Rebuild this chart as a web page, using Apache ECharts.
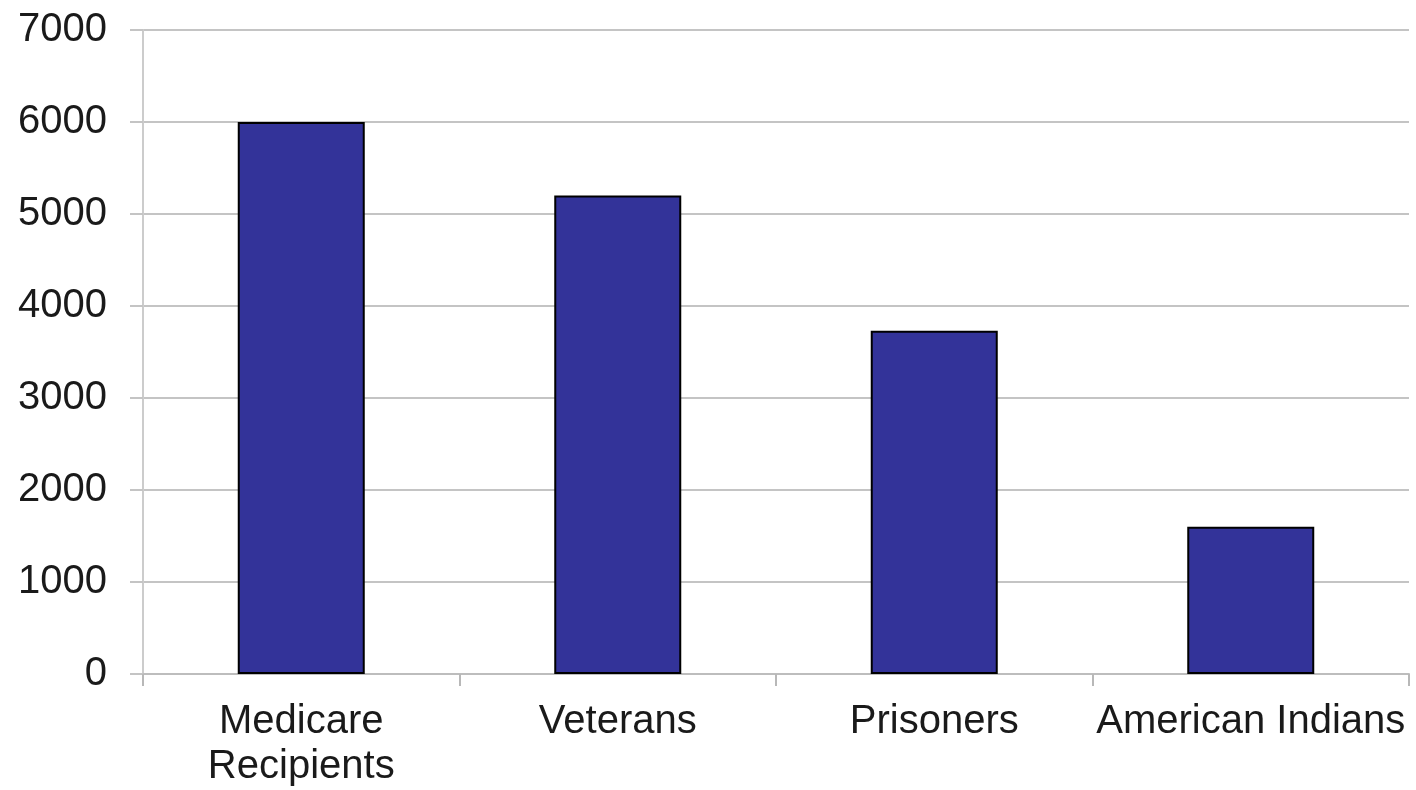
<!DOCTYPE html>
<html lang="en">
<head>
	<meta charset="UTF-8">
	<title>Chart</title>
	<style type="text/css">
		html, body { margin: 0; padding: 0; background: #fff; }
	</style>
	<script src="https://cdn.jsdelivr.net/npm/echarts@6/dist/echarts.min.js"></script>
</head>
<body>
	<div id="main" style="width: 1416px;height:790px;"></div>
	<script type="text/javascript">
	var categories = ['Medicare\nRecipients', 'Veterans', 'Prisoners', 'American Indians']
	var values = [6000, 5200, 3730, 1600]
	var yTicks = [0, 1000, 2000, 3000, 4000, 5000, 6000, 7000]

	var myChart = echarts.init(document.getElementById('main'));
	var option = {
		animation: false,
		grid: { left: 143, top: 30, right: 7, bottom: 116 },
		xAxis: {
			type: 'category',
			data: categories,
			axisLine: { lineStyle: { color: '#bdbdbd', width: 2 } },
			axisTick: { show: true, alignWithLabel: false, length: 12, lineStyle: { color: '#b8b8b8', width: 2 } },
			axisLabel: {
				color: '#1a1a1a',
				fontFamily: 'Liberation Sans, Arial',
				fontSize: 40,
				lineHeight: 45,
				margin: 25,
				interval: 0
			}
		},
		yAxis: {
			type: 'value',
			min: yTicks[0],
			max: yTicks[yTicks.length - 1],
			interval: 1000,
			axisLine: { show: true, lineStyle: { color: '#cccccc', width: 2 } },
			axisTick: { show: true, length: 13, lineStyle: { color: '#c4c4c4', width: 2 } },
			splitLine: { lineStyle: { color: '#c4c4c4', width: 2 } },
			axisLabel: {
				color: '#1a1a1a',
				fontFamily: 'Liberation Sans, Arial',
				fontSize: 40,
				margin: 36,
				formatter: function (v) { return String(v) }
			}
		},
		series: [{
			type: 'bar',
			data: values,
			barWidth: 127,
			itemStyle: { color: '#333399', borderColor: '#000', borderWidth: 2 }
		}]
	};
	myChart.setOption(option);
	</script>
</body>
</html>
